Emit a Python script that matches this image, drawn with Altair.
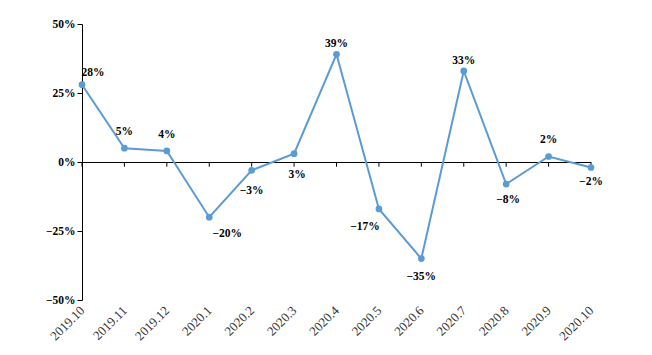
import altair as alt
import pandas as pd

months = ["2019.10", "2019.11", "2019.12", "2020.1", "2020.2", "2020.3", "2020.4",
          "2020.5", "2020.6", "2020.7", "2020.8", "2020.9", "2020.10"]
growth = [28, 5, 4, -20, -3, 3, 39, -17, -35, 33, -8, 2, -2]

# label placement (pixel offsets relative to each point)
label_dx = [11, 0, 0, 18, 0, 3, 0, -14, 0, 0, 2, 0, 0]
label_dy = [-12, -16, -16, 17, 21, 21, -10, 18, 18, -10, 16, -16, 14]

PLOT_H = 276
df = pd.DataFrame({
    "month": months,
    "v": [g / 100 for g in growth],
    "dx": label_dx,
    "dy": label_dy,
})

FONT = "Liberation Serif"
BLUE = "#5B9BD5"
HALF_PX = 0.5 / PLOT_H  # align 1px rule to pixel grid

x_enc = alt.X("month:N", sort=months,
              scale=alt.Scale(type="point", padding=0),
              axis=alt.Axis(title=None, domain=False, ticks=False, labelAngle=-45,
                            labelAlign="right", labelBaseline="middle",
                            labelPadding=8, labelFont=FONT, labelFontSize=13,
                            labelColor="#333"))
y_scale = alt.Scale(domain=[-0.5, 0.5], nice=False)
y_enc = alt.Y("v:Q", scale=y_scale,
              axis=alt.Axis(title=None, values=[-0.5, -0.25, 0, 0.25, 0.5], format=".0%",
                            grid=False, domainColor="black", tickColor="black",
                            tickSize=5, labelFont=FONT, labelFontSize=11.5,
                            labelFontWeight="bold", labelColor="black", labelPadding=2))

base = alt.Chart(df)

zero_line = base.mark_rule(color="black", strokeWidth=1).encode(
    y=alt.datum(-HALF_PX), x=alt.value(0), x2=alt.value(509))

ticks = base.mark_rule(color="black", strokeWidth=1).encode(
    x=alt.X("month:N", sort=months, scale=alt.Scale(type="point", padding=0)),
    y=alt.datum(0), y2=alt.datum(-0.017))

line = base.mark_line(color=BLUE, strokeWidth=2).encode(x=x_enc, y=y_enc)
pts = base.mark_point(color=BLUE, filled=True, opacity=1, size=45).encode(
    x=alt.X("month:N", sort=months), y="v:Q")

labels = base.transform_calculate(
    ly=f"datum.v - datum.dy / {PLOT_H}"
).mark_text(font=FONT, fontSize=11.5, fontWeight="bold", color="black",
            baseline="middle", align="center").encode(
    x=alt.X("month:N", sort=months),
    y=alt.Y("ly:Q"),
    xOffset=alt.XOffset("dx:Q", scale=None),
    text=alt.Text("v:Q", format=".0%"))

chart = alt.layer(zero_line, ticks, line, pts, labels).properties(
    width=509, height=PLOT_H,
    background="white",
    autosize=alt.AutoSizeParams(type="none"),
    padding={"left": 82, "top": 24, "right": 61, "bottom": 55},
).configure_view(strokeWidth=0, stroke=None)

chart.save("out.html", embed_options={"renderer": "svg", "actions": False})
